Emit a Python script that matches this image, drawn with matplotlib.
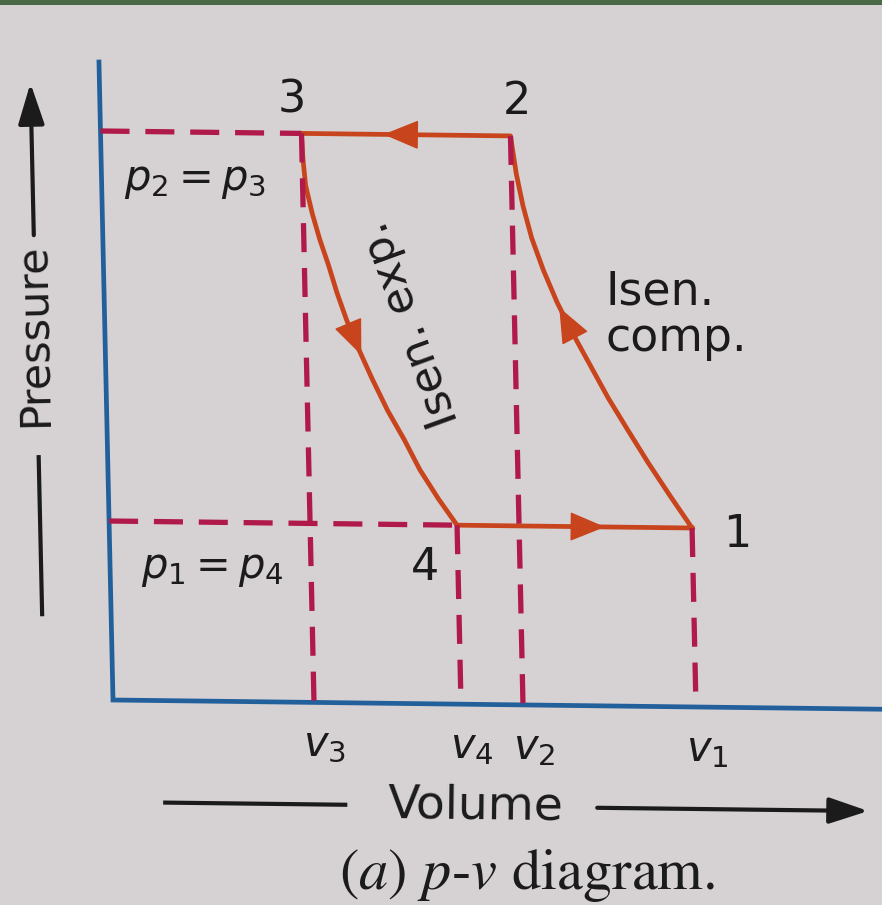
import numpy as np
import matplotlib.pyplot as plt
from matplotlib.patches import FancyArrowPatch, Rectangle
from matplotlib.transforms import Affine2D

# state points of the cycle (volume, pressure) in arbitrary units
V1, V2, V3, V4 = 5.83, 4.10, 2.01, 3.48
P1, P2 = 1.79, 5.69          # p1 = p4, p2 = p3

# isentropic compression 1 -> 2
v_comp = [5.83, 5.61, 5.41, 5.21, 5.02, 4.85, 4.68, 4.53, 4.40, 4.29, 4.21, 4.15, 4.10]
p_comp = [1.79, 2.12, 2.43, 2.76, 3.08, 3.40, 3.72, 4.03, 4.35, 4.67, 4.99, 5.31, 5.69]

# isentropic expansion 3 -> 4
v_exp = [2.01, 2.02, 2.04, 2.10, 2.17, 2.25, 2.33, 2.42, 2.53, 2.66, 2.81, 2.97, 3.12, 3.30, 3.48]
p_exp = [5.69, 5.42, 5.17, 4.89, 4.63, 4.38, 4.10, 3.83, 3.55, 3.25, 2.93, 2.64, 2.34, 2.05, 1.79]

# direction heads on each process (tail, tip)
arrow_tails = [(3.17, 5.69), (2.42, 3.83), (4.61, 1.79), (4.66, 3.76)]
arrow_tips = [(2.83, 5.69), (2.56, 3.48), (4.96, 1.79), (4.55, 3.98)]

state_names = ['1', '2', '3', '4']
state_label_pos = [(6.28, 1.73), (4.17, 6.04), (1.92, 6.02), (3.15, 1.36)]
vol_labels = [r'$v_3$', r'$v_4$', r'$v_2$', r'$v_1$']
vol_values = [V3, V4, V2, V1]

CYCLE = '#c8441c'
DASH = '#b01a4a'
AXIS = '#21609a'
INK = '#1b1b1b'

fig = plt.figure(figsize=(8.82, 9.05), dpi=100, facecolor='#d6d1d3')
ax = fig.add_axes([0, 0, 1, 1])
ax.set_xlim(-1.13, 7.69)
ax.set_ylim(-2.05, 7.00)
ax.axis('off')
fig.add_artist(Rectangle((0, 1 - 5 / 905), 1, 5 / 905, transform=fig.transFigure,
                         color='#4a6a47', lw=0))

# the printed page sits slightly askew
tilt = Affine2D(np.array([[1.0, -0.022, 0.0], [-0.012, 1.0, 0.0], [0.0, 0.0, 1.0]]))
T = tilt + ax.transData

# axes
ax.plot([0, 0, 7.9], [6.38, 0, 0], color=AXIS, lw=3.4, transform=T,
        solid_joinstyle='miter', zorder=2)

# construction lines
dash_kw = dict(color=DASH, lw=3.8, dashes=(5.5, 3.0), dash_capstyle='butt',
               transform=T, zorder=4)
ax.plot([0, V3], [P2, P2], **dash_kw)
ax.plot([0, V4], [P1, P1], **dash_kw)
for v, p in [(V3, P2), (V2, P2), (V4, P1), (V1, P1)]:
    ax.plot([v, v], [p, 0], **dash_kw)

# the cycle 1-2-3-4
cyc_v = v_comp + [V3] + v_exp + [V1]
cyc_p = p_comp + [P2] + p_exp + [P1]
ax.plot(cyc_v, cyc_p, color=CYCLE, lw=3.4, transform=T, zorder=3,
        solid_joinstyle='round')
for a, b in zip(arrow_tails, arrow_tips):
    ax.add_patch(FancyArrowPatch(a, b, transform=T, shrinkA=0, shrinkB=0,
                                 arrowstyle='-|>,head_length=2.3,head_width=0.95',
                                 mutation_scale=10, color=CYCLE, lw=1, zorder=5))

txt = dict(family='DejaVu Sans', color=INK, transform=T, ha='center', va='center')
for name, (x, y) in zip(state_names, state_label_pos):
    ax.text(x, y, name, fontsize=32, **txt)
for lab, v in zip(vol_labels, vol_values):
    ax.text(v + 0.10, -0.42, lab, fontsize=30, **txt)
ax.text(0.93, 5.21, r'$p_2 = p_3$', fontsize=30, **txt)
ax.text(1.02, 1.33, r'$p_1 = p_4$', fontsize=30, **txt)
ax.text(5.01, 3.91, 'Isen.\ncomp.', fontsize=33, linespacing=1.05,
        **{**txt, 'ha': 'left'})
ax.text(3.05, 3.79, 'Isen. exp.', fontsize=32, rotation=110, **txt)

# axis titles
ax.text(-0.72, 3.65, 'Pressure', fontsize=31, rotation=91.2, **txt)
ax.plot([-0.69, -0.69], [2.42, 0.85], color=INK, lw=3, transform=T)
ax.add_patch(FancyArrowPatch((-0.69, 4.64), (-0.69, 6.16), transform=T,
                             shrinkA=0, shrinkB=0, color=INK, lw=3,
                             arrowstyle='-|>,head_length=2.5,head_width=0.8',
                             mutation_scale=10))
ax.text(3.60, -1.02, 'Volume', fontsize=34, rotation=-0.7, **txt)
ax.plot([0.50, 2.30], [-1.02, -1.02], color=INK, lw=3, transform=T)
ax.add_patch(FancyArrowPatch((4.82, -1.02), (7.53, -1.02), transform=T,
                             shrinkA=0, shrinkB=0, color=INK, lw=3,
                             arrowstyle='-|>,head_length=2.4,head_width=0.8',
                             mutation_scale=10))

ax.text(4.10, -1.71, r'$(a)$ $p$-$v$ diagram.', fontsize=42, family='STIXGeneral',
        math_fontfamily='stix', color=INK, ha='center', va='center',
        transform=T)

fig.savefig('out.png', dpi=100, facecolor=fig.get_facecolor())
